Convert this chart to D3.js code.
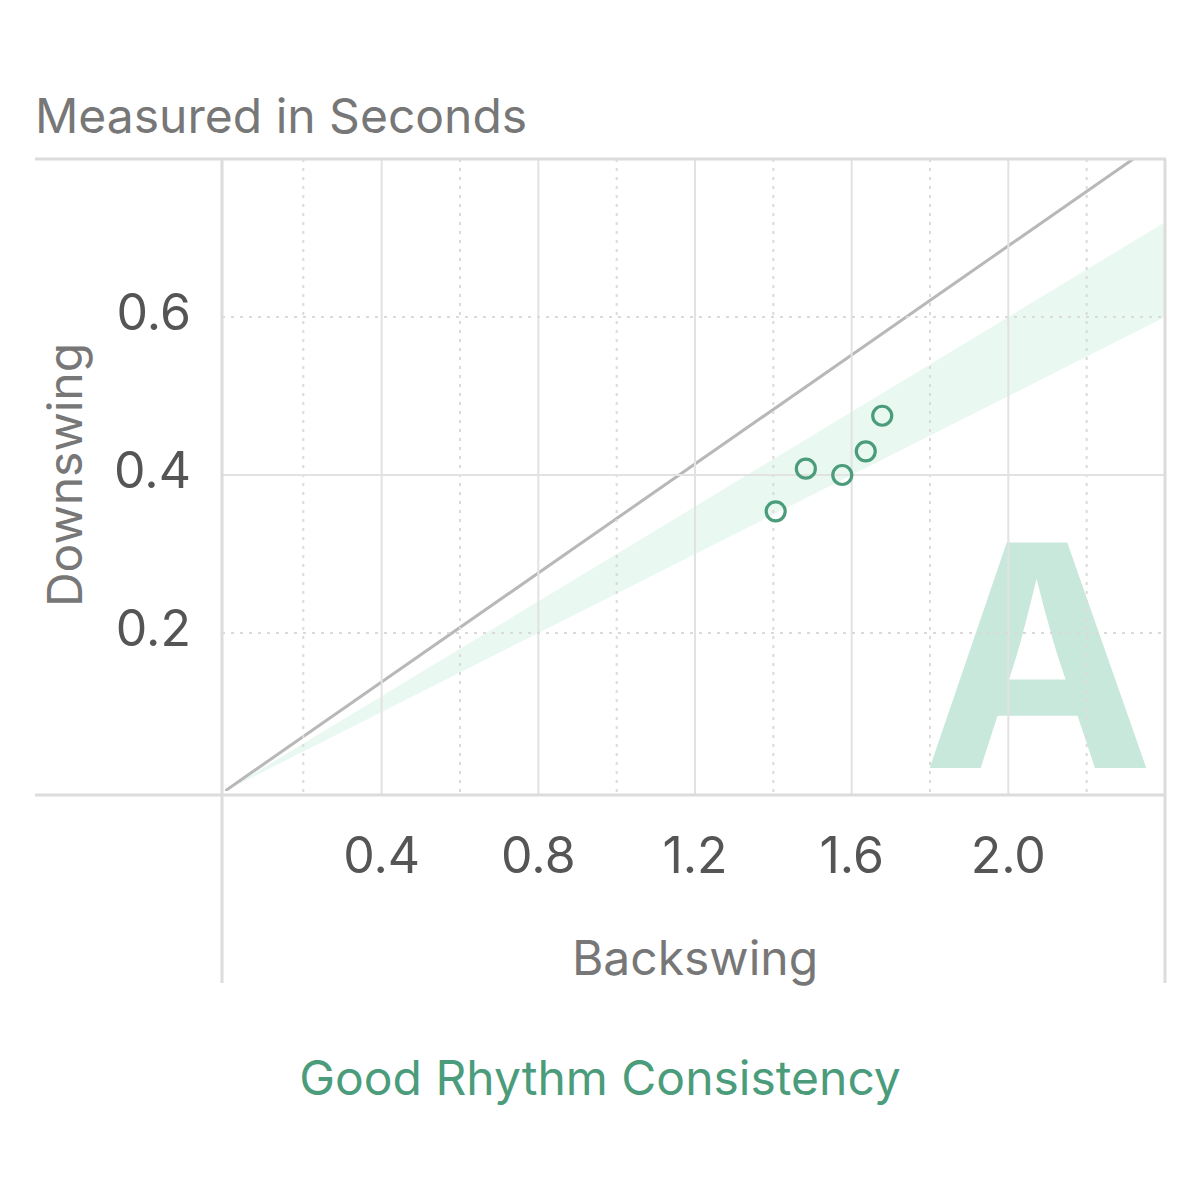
<!DOCTYPE html>
<html>
<head>
<meta charset="utf-8">
<script src="https://cdn.jsdelivr.net/npm/d3@7"></script>
<style>
  html, body { margin: 0; padding: 0; background: #fff; }
  svg { display: block; font-family: Inter, "Noto Sans", sans-serif; }
</style>
</head>
<body>
<svg id="chart" width="1200" height="1200"></svg>
<script>
// ---- data ----
const backswing = [1.406, 1.483, 1.576, 1.636, 1.678];
const downswing = [0.354, 0.408, 0.400, 0.430, 0.475];
const xMajorTicks = [0.4, 0.8, 1.2, 1.6, 2.0];
const xMinorTicks = [0.2, 0.6, 1.0, 1.4, 1.8, 2.2];
const yMajorTicks = [0.4];
const yMinorTicks = [0.2, 0.6];
const yLabelTicks = [0.2, 0.4, 0.6];
const bandLowRatio = 0.25;   // downswing / backswing, lower edge of good band
const bandHighRatio = 0.30;  // upper edge of good band
const refLineRatio = 0.345;  // reference line
const xDomain = [0, 2.4];
const yDomain = [0, 0.8];
const titleText = "Measured in Seconds";
const xLabel = "Backswing";
const yLabel = "Downswing";
const gradeText = "A";
const captionText = "Good Rhythm Consistency";

// ---- layout ----
const svg = d3.select("#chart");
const x = d3.scaleLinear().domain(xDomain).range([225, 1165]);
const y = d3.scaleLinear().domain(yDomain).range([791, 159]);
const green = "#4a9c7b";

const defs = svg.append("defs");
defs.append("clipPath").attr("id", "plotClip")
  .append("rect").attr("x", x(0)).attr("y", y(0.8))
  .attr("width", x(2.4) - x(0)).attr("height", y(0) - y(0.8));

const plot = svg.append("g").attr("clip-path", "url(#plotClip)");

// band
const bandXs = [0, 2.4];
const area = d3.area()
  .x(d => x(d))
  .y0(d => y(d * bandLowRatio))
  .y1(d => y(d * bandHighRatio));
plot.append("path").datum(bandXs).attr("d", area).attr("fill", "#e9f8f0");

// grade letter
svg.append("text")
  .attr("x", 1038).attr("y", 768)
  .attr("text-anchor", "middle")
  .attr("font-size", 310).attr("font-weight", 700)
  .attr("fill", "#c8e8dc")
  .text(gradeText);

// gridlines
const grid = svg.append("g");
grid.selectAll(".xmaj").data(xMajorTicks).join("line")
  .attr("x1", d => x(d)).attr("x2", d => x(d))
  .attr("y1", y(0.8)).attr("y2", 795)
  .attr("stroke", "#e2e2e2").attr("stroke-width", 2);
grid.selectAll(".xmin").data(xMinorTicks).join("line")
  .attr("x1", d => x(d)).attr("x2", d => x(d))
  .attr("y1", y(0.8)).attr("y2", 795)
  .attr("stroke", "#dadada").attr("stroke-width", 2)
  .attr("stroke-dasharray", "3,6");
grid.selectAll(".ymaj").data(yMajorTicks).join("line")
  .attr("x1", 222).attr("x2", x(2.4))
  .attr("y1", d => y(d)).attr("y2", d => y(d))
  .attr("stroke", "#e2e2e2").attr("stroke-width", 2);
grid.selectAll(".ymin").data(yMinorTicks).join("line")
  .attr("x1", 222).attr("x2", x(2.4))
  .attr("y1", d => y(d)).attr("y2", d => y(d))
  .attr("stroke", "#dadada").attr("stroke-width", 2)
  .attr("stroke-dasharray", "3,6");

// frame
const frame = svg.append("g").attr("stroke", "#dcdcdc").attr("stroke-width", 3);
frame.append("line").attr("x1", 35).attr("x2", x(2.4) + 1).attr("y1", y(0.8)).attr("y2", y(0.8));
frame.append("line").attr("x1", 35).attr("x2", x(2.4) + 1).attr("y1", 795).attr("y2", 795);
frame.append("line").attr("x1", 222).attr("x2", 222).attr("y1", y(0.8)).attr("y2", 983);
frame.append("line").attr("x1", x(2.4)).attr("x2", x(2.4)).attr("y1", y(0.8)).attr("y2", 983);

// reference line
plot.append("line")
  .attr("x1", x(0)).attr("y1", y(0))
  .attr("x2", x(2.4)).attr("y2", y(2.4 * refLineRatio))
  .attr("stroke", "#b8b8b8").attr("stroke-width", 3);

// points
const pts = backswing.map((b, i) => ({ b, d: downswing[i] }));
svg.append("g").selectAll("circle").data(pts).join("circle")
  .attr("cx", d => x(d.b)).attr("cy", d => y(d.d))
  .attr("r", 9.5)
  .attr("fill", "none")
  .attr("stroke", green).attr("stroke-width", 3.2);

// tick labels
svg.append("g").selectAll("text").data(xMajorTicks).join("text")
  .attr("x", d => x(d)).attr("y", 873)
  .attr("text-anchor", "middle")
  .attr("font-size", 50).attr("fill", "#555")
  .text(d => d.toFixed(1));
svg.append("g").selectAll("text").data(yLabelTicks).join("text")
  .attr("x", 191).attr("y", d => y(d) + 13)
  .attr("text-anchor", "end")
  .attr("font-size", 50).attr("fill", "#555")
  .text(d => d.toFixed(1));

// axis titles
svg.append("text")
  .attr("x", 35).attr("y", 133)
  .attr("font-size", 48).attr("fill", "#777")
  .text(titleText);
svg.append("text")
  .attr("x", x(1.2)).attr("y", 975)
  .attr("text-anchor", "middle")
  .attr("font-size", 48).attr("fill", "#777")
  .text(xLabel);
svg.append("text")
  .attr("transform", `translate(82, ${y(0.4)}) rotate(-90)`)
  .attr("text-anchor", "middle")
  .attr("font-size", 48).attr("fill", "#777")
  .text(yLabel);

// caption
svg.append("text")
  .attr("x", 600).attr("y", 1095)
  .attr("text-anchor", "middle")
  .attr("font-size", 48).attr("fill", green)
  .text(captionText);
</script>
</body>
</html>
